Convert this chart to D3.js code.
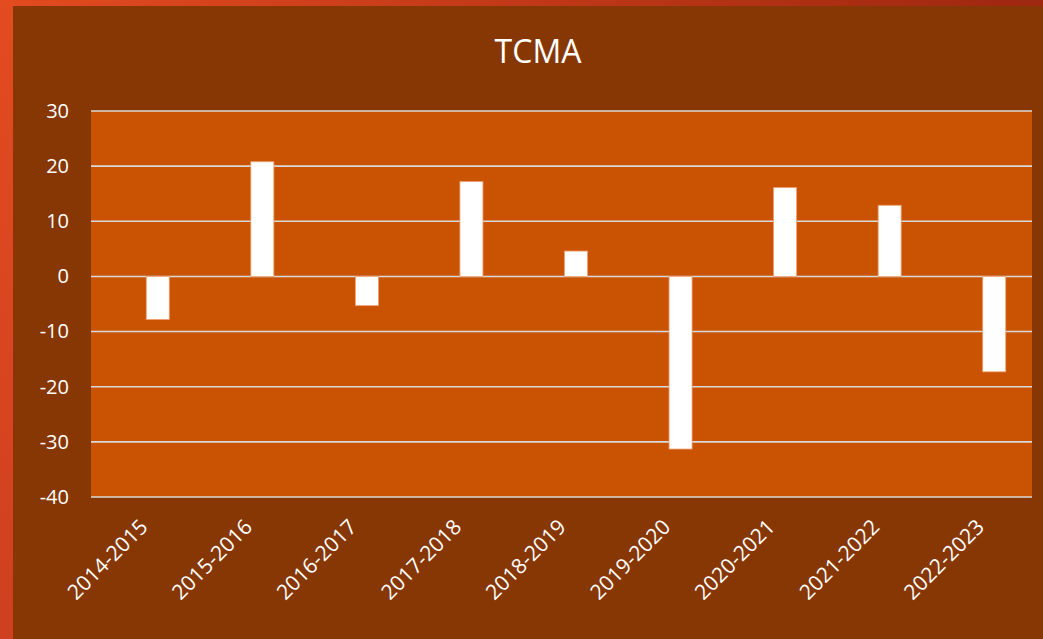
<!DOCTYPE html>
<html>
<head>
<meta charset="utf-8">
<script src="https://cdn.jsdelivr.net/npm/d3@7"></script>
<style>
  body { margin: 0; background: #873703; }
  svg { display: block; }
</style>
</head>
<body>
<div id="chart"></div>
<script>
// data
var periods = ["2014-2015", "2015-2016", "2016-2017", "2017-2018", "2018-2019",
               "2019-2020", "2020-2021", "2021-2022", "2022-2023"];
var tcma = [-7.8, 20.8, -5.3, 17.2, 4.6, -31.3, 16.1, 12.9, -17.3];
var yTicks = [30, 20, 10, 0, -10, -20, -30, -40];

var W = 1043, H = 639;
var plot = {left: 91, right: 1032, top: 111, bottom: 497};

var svg = d3.select("#chart").append("svg")
    .attr("width", W)
    .attr("height", H);

var defs = svg.append("defs");
var gTop = defs.append("linearGradient").attr("id", "gTop")
    .attr("x1", "0%").attr("x2", "100%").attr("y1", "0%").attr("y2", "0%");
gTop.append("stop").attr("offset", "0%").attr("stop-color", "#e34b20");
gTop.append("stop").attr("offset", "100%").attr("stop-color", "#9e2710");
var gLeft = defs.append("linearGradient").attr("id", "gLeft")
    .attr("x1", "0%").attr("x2", "0%").attr("y1", "0%").attr("y2", "100%");
gLeft.append("stop").attr("offset", "0%").attr("stop-color", "#e34b20");
gLeft.append("stop").attr("offset", "100%").attr("stop-color", "#cf4020");

//background + border strips
svg.append("rect").attr("width", W).attr("height", H).attr("fill", "#873703");
svg.append("rect").attr("x", 0).attr("y", 0).attr("width", W).attr("height", 6).attr("fill", "url(#gTop)");
svg.append("rect").attr("x", 0).attr("y", 0).attr("width", 13).attr("height", H).attr("fill", "url(#gLeft)");

//scales
var y = d3.scaleLinear()
    .domain([-40, 30])
    .range([plot.bottom, plot.top]);

// bars sit a little right of the category centres in the original
var x = d3.scaleBand()
    .domain(periods)
    .range([plot.left + 14.5, plot.right + 14.5])
    .paddingInner(0.78)
    .paddingOuter(0.39);

//plot area
svg.append("rect")
    .attr("x", plot.left)
    .attr("y", plot.top)
    .attr("width", plot.right - plot.left)
    .attr("height", plot.bottom - plot.top)
    .attr("fill", "#ca5303");

//gridlines
svg.append("g")
    .selectAll("line")
    .data(yTicks)
    .enter()
    .append("line")
    .attr("x1", plot.left)
    .attr("x2", plot.right)
    .attr("y1", function(d){ return y(d); })
    .attr("y2", function(d){ return y(d); })
    .attr("stroke", "#d9d9d9")
    .attr("stroke-width", 1.6);

//y axis labels (plain hyphen for negatives, like the original)
var yAxis = d3.axisLeft(y)
    .tickValues(yTicks)
    .tickSize(0)
    .tickPadding(0)
    .tickFormat(function(d){ return String(d); });

var gy = svg.append("g")
    .attr("transform", "translate(69,0)")
    .call(yAxis);
gy.select(".domain").remove();
gy.selectAll("text")
    .attr("fill", "#ffffff")
    .style("font-family", "'Open Sans', sans-serif")
    .style("font-size", "20px");

//bars
svg.append("g")
    .selectAll("rect")
    .data(tcma)
    .enter()
    .append("rect")
    .attr("x", function(d, i){ return x(periods[i]); })
    .attr("width", x.bandwidth())
    .attr("y", function(d){ return y(Math.max(0, d)); })
    .attr("height", function(d){ return Math.abs(y(d) - y(0)); })
    .attr("fill", "#ffffff")
    .attr("stroke", "#f0a070")
    .attr("stroke-width", 0.8);

//x axis labels
var xAxis = d3.axisBottom(x)
    .tickSize(0)
    .tickPadding(0);

var gx = svg.append("g")
    .attr("transform", "translate(-14," + (plot.bottom + 26) + ")")
    .call(xAxis);
gx.select(".domain").remove();
gx.selectAll("text")
    .attr("fill", "#ffffff")
    .attr("text-anchor", "end")
    .attr("y", 0)
    .attr("dy", "0.35em")
    .attr("transform", "rotate(-45)")
    .style("font-family", "'Open Sans', sans-serif")
    .style("font-size", "21px");

//title
svg.append("text")
    .attr("x", 538)
    .attr("y", 63)
    .attr("text-anchor", "middle")
    .text("TCMA")
    .style("fill", "#ffffff")
    .style("font-family", "'Open Sans', sans-serif")
    .style("font-size", "32px");
</script>
</body>
</html>
